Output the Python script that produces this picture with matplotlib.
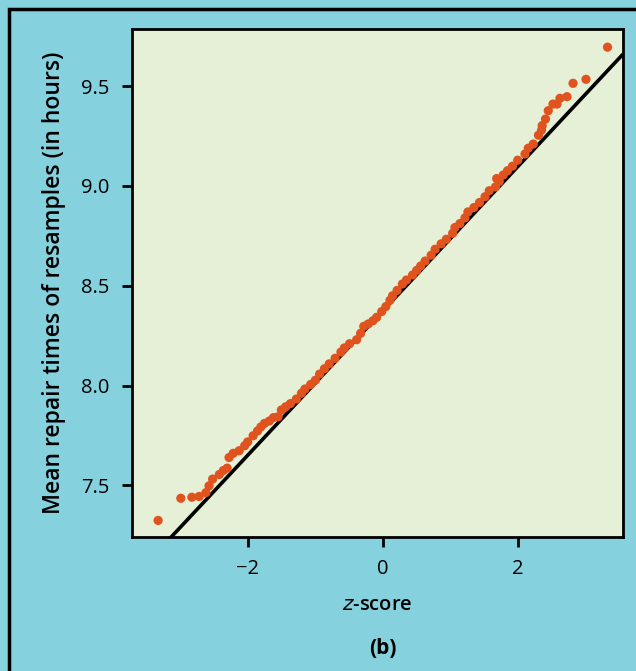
import matplotlib
matplotlib.use("Agg")
import matplotlib.pyplot as plt
from matplotlib.patches import Rectangle
import numpy as np

# Data (normal quantile plot of resample means)
z_scores = [-3.324, -2.988, -2.825, -2.717, -2.618, -2.571, -2.518, -2.419, -2.359, -2.303,
            -2.275, -2.214, -2.126, -2.044, -2.000, -1.919, -1.854, -1.805, -1.751, -1.679,
            -1.618, -1.550, -1.501, -1.438, -1.368, -1.280, -1.204, -1.154, -1.068, -0.999,
            -0.936, -0.864, -0.794, -0.707, -0.621, -0.570, -0.493, -0.388, -0.330, -0.283,
            -0.217, -0.148, -0.093, -0.018, 0.044, 0.104, 0.143, 0.210, 0.288, 0.348,
            0.439, 0.499, 0.558, 0.624, 0.713, 0.772, 0.861, 0.938, 1.031, 1.065,
            1.139, 1.213, 1.257, 1.346, 1.428, 1.510, 1.572, 1.664, 1.682, 1.720,
            1.780, 1.842, 1.916, 1.993, 2.101, 2.149, 2.223, 2.300, 2.345, 2.355,
            2.404, 2.445, 2.515, 2.574, 2.618, 2.722, 2.811, 3.003, 3.321]
means = [7.325, 7.436, 7.441, 7.445, 7.464, 7.498, 7.532, 7.555, 7.575, 7.587,
         7.640, 7.661, 7.674, 7.699, 7.718, 7.749, 7.773, 7.793, 7.811, 7.823,
         7.840, 7.844, 7.878, 7.894, 7.910, 7.933, 7.962, 7.983, 8.006, 8.027,
         8.058, 8.085, 8.109, 8.137, 8.168, 8.189, 8.210, 8.230, 8.262, 8.297,
         8.309, 8.325, 8.342, 8.371, 8.396, 8.427, 8.450, 8.477, 8.509, 8.529,
         8.554, 8.577, 8.599, 8.624, 8.653, 8.683, 8.710, 8.733, 8.763, 8.792,
         8.812, 8.840, 8.870, 8.892, 8.917, 8.946, 8.976, 8.995, 9.037, 9.022,
         9.055, 9.076, 9.099, 9.129, 9.160, 9.189, 9.210, 9.254, 9.279, 9.302,
         9.335, 9.377, 9.410, 9.410, 9.439, 9.447, 9.514, 9.534, 9.695]

line_mean = 8.375
line_sd = 0.362

x_ticks = [-2, 0, 2]
x_tick_labels = ["\u22122", "0", "2"]
y_ticks = [7.5, 8.0, 8.5, 9.0, 9.5]
y_tick_labels = ["7.5", "8.0", "8.5", "9.0", "9.5"]

BG = "#85D1DE"
FACE = "#E6F0D6"
DOT = "#E0521E"

plt.rcParams['font.family'] = ['Open Sans', 'DejaVu Sans']

fig = plt.figure(figsize=(6.36, 6.71), dpi=100, facecolor=BG)
# outer black frame
fig.patches.append(Rectangle((9/636, -0.05), 1.1, 1 - 9/671 + 0.05, transform=fig.transFigure,
                             fill=False, edgecolor="black", linewidth=2.5, zorder=0))

ax = fig.add_axes([132/636, 1 - 537/671, (623 - 132)/636, (537 - 29)/671])
ax.set_facecolor(FACE)

xlim = (-3.71, 3.55)
ylim = (7.242, 9.786)
ax.set_xlim(*xlim)
ax.set_ylim(*ylim)

xl = np.array(xlim)
ax.plot(xl, line_mean + line_sd * xl, color="black", linewidth=2.6, zorder=2,
        solid_capstyle="butt")
ax.scatter(z_scores, means, s=44, color=DOT, edgecolors="none", zorder=3)

ax.set_xticks(x_ticks)
ax.set_xticklabels(x_tick_labels)
ax.set_yticks(y_ticks)
ax.set_yticklabels(y_tick_labels)
ax.tick_params(axis="both", direction="out", length=7, width=2, labelsize=14.5,
               color="black", labelcolor="black")
ax.tick_params(axis="x", pad=9)
ax.tick_params(axis="y", pad=9)
for s in ax.spines.values():
    s.set_linewidth(2)
    s.set_color("black")

ax.set_ylabel("Mean repair times of resamples (in hours)", fontsize=16.5,
              fontweight="semibold", labelpad=11)
ax.set_xlabel("$\\it{z}$-score", fontsize=14.5, fontweight="semibold", labelpad=11)
fig.text(383/636, 1 - 648/671, "(b)", ha="center", va="center", fontsize=15,
         fontweight="bold")

fig.savefig("out.png", dpi=100, facecolor=BG)
